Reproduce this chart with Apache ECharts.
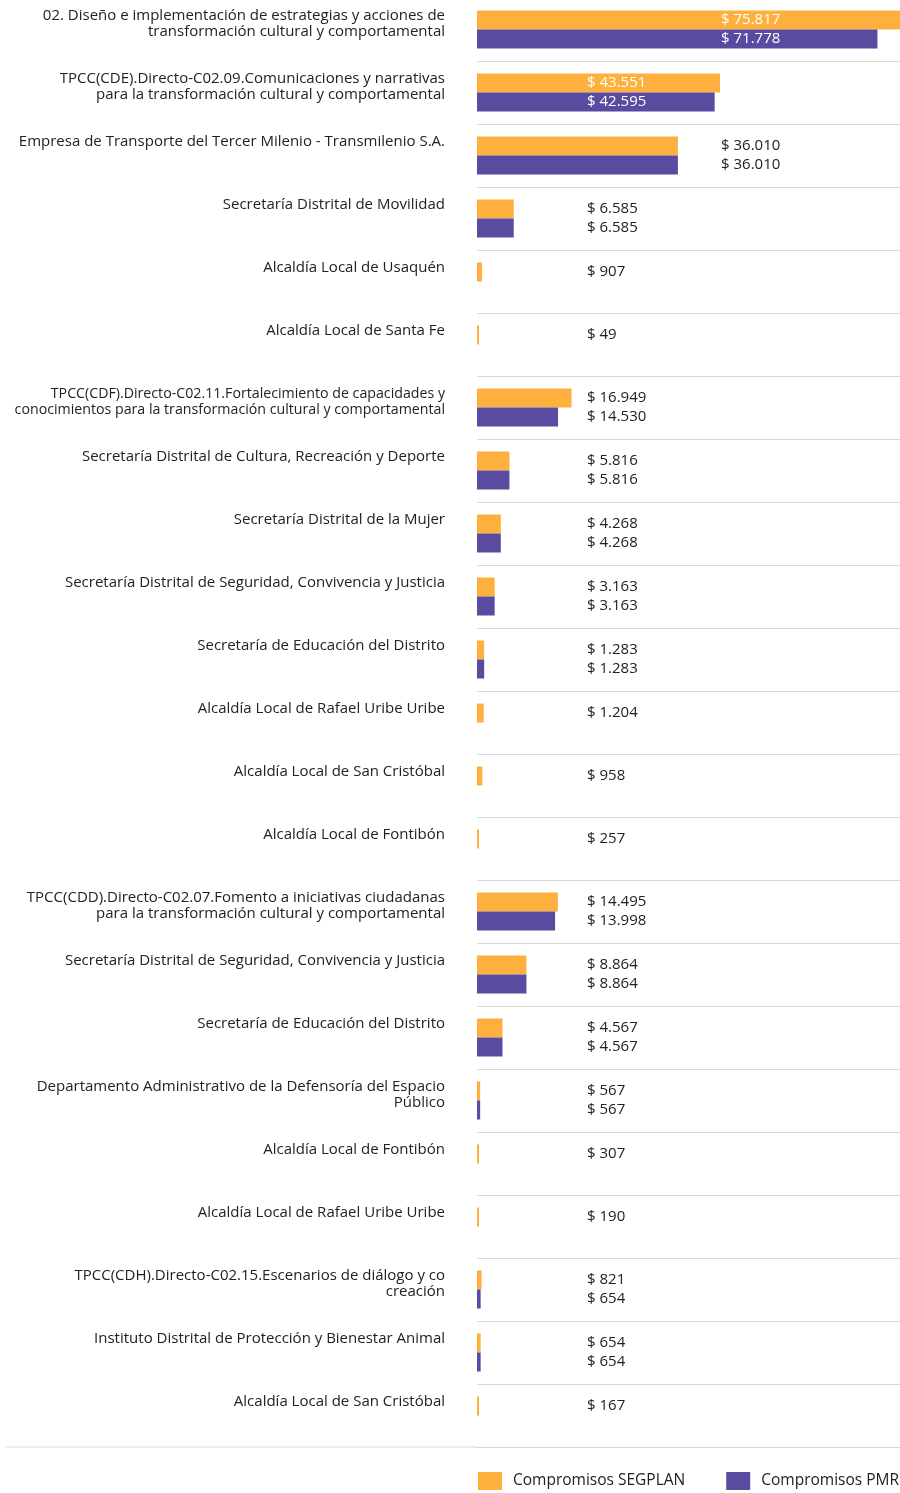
<!DOCTYPE html>
<html>
<head>
<meta charset="utf-8">
<script src="https://cdn.jsdelivr.net/npm/echarts@6/dist/echarts.min.js"></script>
<style>
html,body{margin:0;padding:0;background:#fff;overflow:hidden;}
#chart{width:900px;height:1495px;position:relative;top:-2px;}
</style>
</head>
<body>
<div id="chart"></div>
<script>
const categories = [
  "02. Diseño e implementación de estrategias y acciones de\ntransformación cultural y comportamental",
  "TPCC(CDE).Directo-C02.09.Comunicaciones y narrativas\npara la transformación cultural y comportamental",
  "Empresa de Transporte del Tercer Milenio - Transmilenio S.A.",
  "Secretaría Distrital de Movilidad",
  "Alcaldía Local de Usaquén",
  "Alcaldía Local de Santa Fe",
  "TPCC(CDF).Directo-C02.11.Fortalecimiento de capacidades y\nconocimientos para la transformación cultural y comportamental",
  "Secretaría Distrital de Cultura, Recreación y Deporte",
  "Secretaría Distrital de la Mujer",
  "Secretaría Distrital de Seguridad, Convivencia y Justicia",
  "Secretaría de Educación del Distrito",
  "Alcaldía Local de Rafael Uribe Uribe",
  "Alcaldía Local de San Cristóbal",
  "Alcaldía Local de Fontibón",
  "TPCC(CDD).Directo-C02.07.Fomento a iniciativas ciudadanas\npara la transformación cultural y comportamental",
  "Secretaría Distrital de Seguridad, Convivencia y Justicia",
  "Secretaría de Educación del Distrito",
  "Departamento Administrativo de la Defensoría del Espacio\nPúblico",
  "Alcaldía Local de Fontibón",
  "Alcaldía Local de Rafael Uribe Uribe",
  "TPCC(CDH).Directo-C02.15.Escenarios de diálogo y co\ncreación",
  "Instituto Distrital de Protección y Bienestar Animal",
  "Alcaldía Local de San Cristóbal"
];
const segplan = [75817, 43551, 36010, 6585, 907, 49, 16949, 5816, 4268, 3163, 1283, 1204, 958, 257, 14495, 8864, 4567, 567, 307, 190, 821, 654, 167];
const pmr = [71778, 42595, 36010, 6585, null, null, 14530, 5816, 4268, 3163, 1283, null, null, null, 13998, 8864, 4567, 567, null, null, 654, 654, null];
const seriesNames = ["Compromisos SEGPLAN", "Compromisos PMR"];

(function () {
const ORANGE = '#FDB03D';
const PURPLE = '#5B4BA0';
const TEXT = '#222222';
const FONT = 'Open Sans';
const plotLeft = 477, plotWidth = 423, rowH = 63, gridTop = 0;
const xMax = 75817;
const farRows = [0, 2];
const maxLabelW = 431;
const baseSize = 15;

function fmt(v) {
  return '$ ' + String(v).replace(/\B(?=(\d{3})+(?!\d))/g, '.');
}
function buildData(arr) {
  return arr.map((v, i) => {
    if (v == null) return null;
    const off = farRows.indexOf(i) >= 0 ? 244 : 110;
    const barPx = v / xMax * plotWidth;
    return {
      value: v,
      label: { position: [off, 9.5], color: barPx > off ? '#ffffff' : TEXT }
    };
  });
}

// per-label font size so that no line exceeds the available width
const ctx = document.createElement('canvas').getContext('2d');
ctx.font = baseSize + 'px "' + FONT + '"';
const rich = {};
categories.forEach((c, i) => {
  const w = Math.max.apply(null, c.split('\n').map(l => ctx.measureText(l).width));
  const size = w > maxLabelW ? baseSize * maxLabelW / w : baseSize;
  rich['l' + i] = { fontFamily: FONT, fontSize: size, color: TEXT, lineHeight: 16, align: 'right' };
});

const chart = echarts.init(document.getElementById('chart'), null, { renderer: 'canvas' });
const labelCommon = {
  show: true,
  align: 'left',
  verticalAlign: 'middle',
  fontFamily: FONT,
  fontSize: 15,
  formatter: p => fmt(p.value)
};
const bottomY = gridTop + rowH * categories.length;
chart.setOption({
  animation: false,
  backgroundColor: '#ffffff',
  grid: { left: plotLeft, width: plotWidth, top: gridTop, height: rowH * categories.length, containLabel: false },
  xAxis: { type: 'value', min: 0, max: xMax, show: false },
  yAxis: {
    type: 'category',
    data: categories,
    inverse: true,
    axisLine: { show: false },
    axisTick: { show: false },
    splitLine: { show: true, lineStyle: { color: '#d9d9d9', width: 1 } },
    axisLabel: {
      margin: 32,
      fontFamily: FONT,
      fontSize: baseSize,
      color: TEXT,
      lineHeight: 16,
      align: 'right',
      verticalAlign: 'top',
      padding: [-21.5, 0, 0, 0],
      formatter: (val, idx) => val.split('\n').map(l => '{l' + idx + '|' + l + '}').join('\n'),
      rich: rich
    }
  },
  legend: {
    left: 478,
    top: 1474,
    padding: 0,
    itemWidth: 24,
    itemHeight: 18,
    itemGap: 41,
    icon: 'rect',
    textStyle: { fontFamily: FONT, fontSize: 15.5, color: TEXT, padding: [0, 0, 0, 6] },
    data: seriesNames
  },
  series: [
    {
      name: seriesNames[0], type: 'bar', barWidth: 19, barGap: '0%', barMinHeight: 2,
      itemStyle: { color: ORANGE },
      label: labelCommon,
      data: buildData(segplan)
    },
    {
      name: seriesNames[1], type: 'bar', barWidth: 19, barGap: '0%', barMinHeight: 2,
      itemStyle: { color: PURPLE },
      label: labelCommon,
      data: buildData(pmr)
    }
  ],
  graphic: [
    { type: 'line', shape: { x1: 5, y1: bottomY, x2: plotLeft, y2: bottomY },
      style: { stroke: '#d9d9d9', lineWidth: 1 } }
  ]
});
})();
</script>
</body>
</html>
